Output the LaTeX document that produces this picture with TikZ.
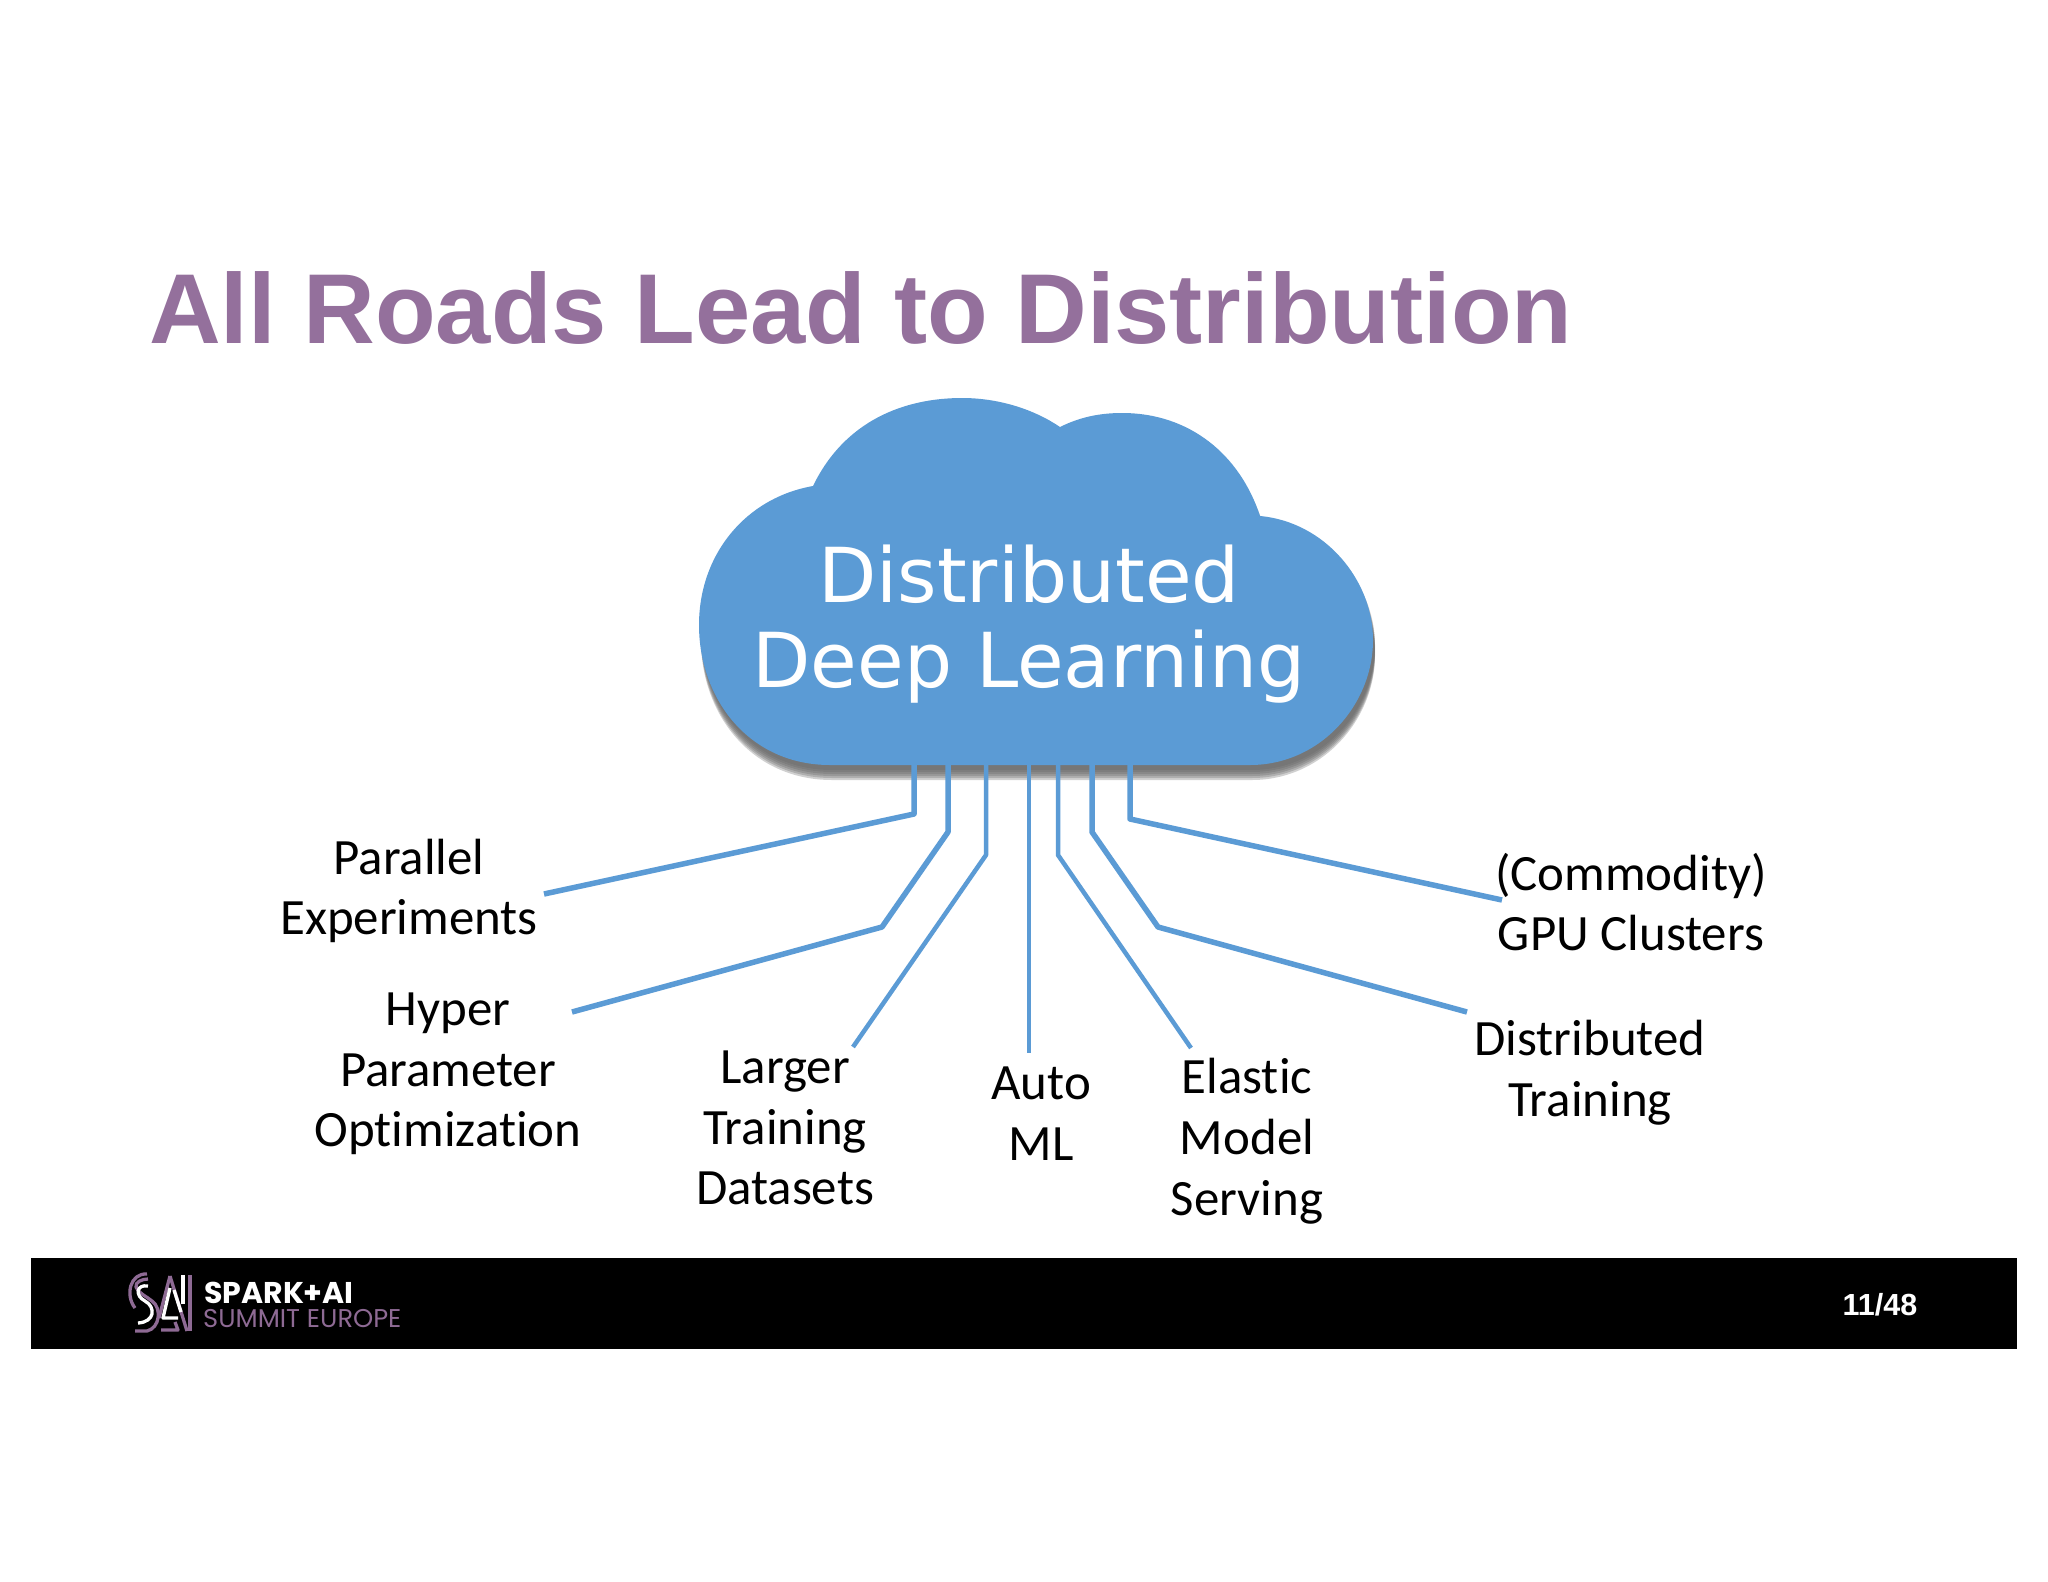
\documentclass[tikz,border=0pt]{standalone}
\usepackage{fontspec}
\setmainfont{Carlito}[Ligatures=NoCommon]
\newfontfamily\titlefont{Liberation Sans}
\newfontfamily\cloudfont{DejaVu Sans}
\newfontfamily\logofont{Poppins}
\usepackage{tikz}
\definecolor{cloudblue}{HTML}{5B9BD5}
\definecolor{sparkpurple}{HTML}{94709C}
\definecolor{logopurple}{HTML}{8E6A94}
\newcommand{\cloudoutline}{(813,486) .. controls (845,420) and (905,398) .. (962,398)
  .. controls (1000,398) and (1035,410) .. (1060,427)
  .. controls (1080,417) and (1100,413) .. (1122,413)
  .. controls (1190,413) and (1240,455) .. (1260,516)
  .. controls (1325,522) and (1373,580) .. (1373,640)
  .. controls (1373,705) and (1320,765) .. (1250,765)
  -- (830,765)
  .. controls (750,765) and (699,700) .. (699,625)
  .. controls (699,555) and (745,498) .. (813,486) -- cycle}
\begin{document}
\begin{tikzpicture}[x=1pt,y=-1pt]
\tikzstyle{label}=[font=\fontsize{50.9}{60.7}\selectfont, align=center, text=black]
\tikzstyle{road}=[draw=cloudblue, line width=5.5pt, line join=round]
\tikzstyle{thinroad}=[draw=cloudblue, line width=4.5pt, line join=round]
\tikzstyle{logoline}=[line width=3.3pt, line join=round]
\useasboundingbox (0,0) rectangle (2048,1582);
\fill[white] (0,0) rectangle (2048,1582);
\node[font=\titlefont\bfseries\fontsize{99.3}{100}\selectfont, text=sparkpurple, anchor=base west, inner sep=0] (title) at (149,343) {All Roads Lead to Distribution};
% shadow, then the cloud
\foreach \s in {5,7,...,15} {
  \fill[black!60, opacity=0.3, shift={(2,\s)}] \cloudoutline;
}
\fill[cloudblue] \cloudoutline;
\node[font=\cloudfont\fontsize{75.8}{85}\selectfont, text=white, align=center, inner sep=0] (cloud) at (1029,624) {Distributed\\Deep Learning};
\coordinate (c1) at (914,765);
\coordinate (c2) at (948,765);
\coordinate (c3) at (986,765);
\coordinate (c4) at (1029,765);
\coordinate (c5) at (1058,765);
\coordinate (c6) at (1092,765);
\coordinate (c7) at (1130,765);
\coordinate (e1) at (544,894);
\coordinate (e2) at (572,1012);
\coordinate (e3) at (853,1047);
\coordinate (e4) at (1029,1053);
\coordinate (e5) at (1191,1048);
\coordinate (e6) at (1467,1012);
\coordinate (e7) at (1502,900);
\draw[road] (c1) -- (914,814) -- (e1);
\draw[road] (c2) -- (948,832) -- (882,927) -- (e2);
\draw[thinroad] (c3) -- (986,855) -- (e3);
\draw[thinroad] (c4) -- (e4);
\draw[thinroad] (c5) -- (1058,855) -- (e5);
\draw[road] (c6) -- (1092,832) -- (1158,927) -- (e6);
\draw[road] (c7) -- (1130,819) -- (e7);
\node[label] (parallel) at (409,891) {Parallel\\Experiments};
\node[label] (hyper) at (448,1074) {Hyper\\Parameter\\Optimization};
\node[label] (larger) at (785,1128) {Larger\\Training\\Datasets};
\node[label] (auto) at (1041,1114) {Auto\\ML};
\node[label] (elastic) at (1247,1141) {Elastic\\Model\\Serving};
\node[label] (distributed) at (1590,1073) {Distributed\\Training};
\node[label] (commodity) at (1631,902) {(Commodity)\\GPU Clusters};
% footer bar
\fill[black] (31,1258) rectangle (2017,1349);
% logo
\draw[logoline, logopurple] (147,1274) .. controls (130,1273) and (125,1295) .. (135,1308);
\draw[logoline, logopurple] (135,1331) -- (147,1331) .. controls (160,1328) and (162,1308) .. (152,1301) .. controls (146,1296) and (138,1293) .. (136,1287) .. controls (135,1282) and (142,1279) .. (148,1279);
\draw[logoline, white] (148,1286) .. controls (136,1284) and (135,1296) .. (145,1301) .. controls (156,1307) and (155,1322) .. (138,1323);
\draw[logoline, logopurple] (170,1276) -- (159,1318);
\draw[logoline, white] (170,1288) -- (163,1318) -- (178,1318);
\draw[logoline, logopurple] (170,1276) -- (187,1331);
\draw[logoline, logopurple] (161,1330) -- (178,1330) -- (175,1322);
\draw[logoline, white] (174,1290) -- (181,1312);
\draw[logoline, white] (183,1275) -- (183,1304);
\draw[logoline, logopurple] (190,1275) -- (190,1331);
\node[font=\logofont\bfseries\fontsize{30}{30}\selectfont, text=white, anchor=base west, inner sep=0] (spark) at (204,1303) {SPARK+AI};
\node[font=\logofont\fontsize{25.7}{25.7}\selectfont, text=logopurple, anchor=base west, inner sep=0] (summit) at (203,1327) {SUMMIT EUROPE};
\node[font=\titlefont\bfseries\fontsize{30.5}{30.5}\selectfont, text=white, inner sep=0] (page) at (1880,1305) {11/48};
\end{tikzpicture}
\end{document}
